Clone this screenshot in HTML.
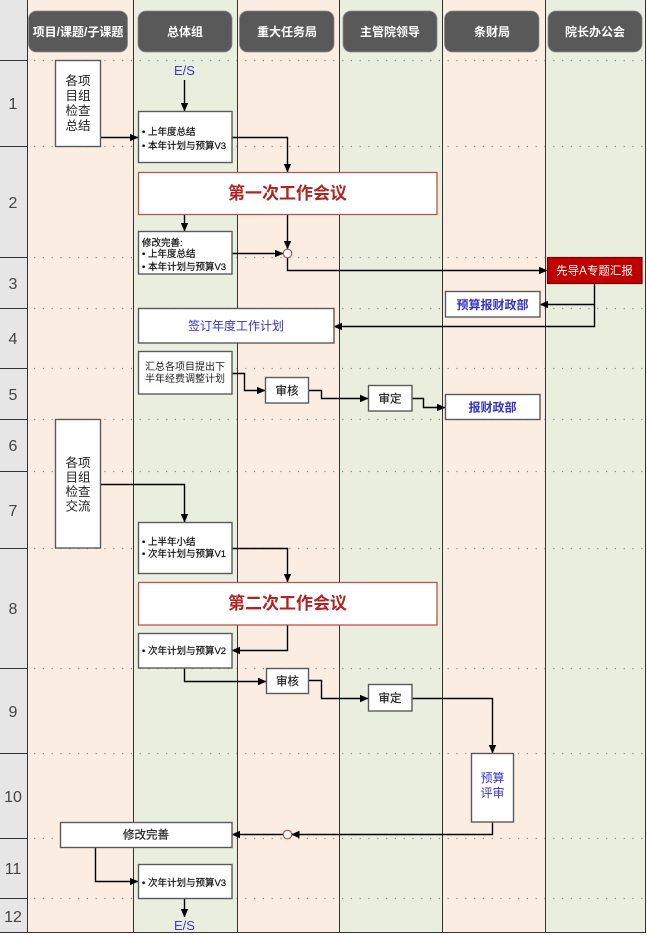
<!DOCTYPE html>
<html><head><meta charset="utf-8">
<style>
html,body{margin:0;padding:0;background:#fff;}
svg{display:block;}
text{font-family:"Liberation Sans","Noto Sans CJK SC",sans-serif;}
</style></head>
<body>
<svg width="647" height="935" viewBox="0 0 647 935" xmlns="http://www.w3.org/2000/svg">
<defs>
<marker id="a" markerWidth="9" markerHeight="9" refX="8" refY="4.5" orient="auto" markerUnits="userSpaceOnUse">
<path d="M0,0.8 L8.5,4.5 L0,8.2 z" fill="#000"/>
</marker>
</defs>
<!-- lanes -->
<rect x="0" y="0" width="27" height="933" fill="#e6e6e6"/>
<rect x="27" y="0" width="106" height="933" fill="#fcede3"/>
<rect x="133" y="0" width="104" height="933" fill="#e9eede"/>
<rect x="237" y="0" width="102" height="933" fill="#fcede3"/>
<rect x="339" y="0" width="103" height="933" fill="#e9eede"/>
<rect x="442" y="0" width="103" height="933" fill="#fcede3"/>
<rect x="545" y="0" width="100" height="933" fill="#e9eede"/>

<!-- dotted row lines -->
<g stroke="#8a8a8a" stroke-width="1.2" stroke-dasharray="1.2,7.6">
<line x1="34" y1="60.5" x2="645" y2="60.5"/>
<line x1="34" y1="146.5" x2="645" y2="146.5"/>
<line x1="34" y1="257.5" x2="645" y2="257.5"/>
<line x1="34" y1="308.5" x2="645" y2="308.5"/>
<line x1="34" y1="368.5" x2="645" y2="368.5"/>
<line x1="34" y1="419.5" x2="645" y2="419.5"/>
<line x1="34" y1="471.5" x2="645" y2="471.5"/>
<line x1="34" y1="548.5" x2="645" y2="548.5"/>
<line x1="34" y1="668.5" x2="645" y2="668.5"/>
<line x1="34" y1="753.5" x2="645" y2="753.5"/>
<line x1="34" y1="838.5" x2="645" y2="838.5"/>
<line x1="34" y1="898.5" x2="645" y2="898.5"/>
</g>

<!-- left column row lines -->
<g stroke="#333" stroke-width="1">
<line x1="0" y1="60.5" x2="27" y2="60.5"/>
<line x1="0" y1="146.5" x2="27" y2="146.5"/>
<line x1="0" y1="257.5" x2="27" y2="257.5"/>
<line x1="0" y1="308.5" x2="27" y2="308.5"/>
<line x1="0" y1="368.5" x2="27" y2="368.5"/>
<line x1="0" y1="419.5" x2="27" y2="419.5"/>
<line x1="0" y1="471.5" x2="27" y2="471.5"/>
<line x1="0" y1="548.5" x2="27" y2="548.5"/>
<line x1="0" y1="668.5" x2="27" y2="668.5"/>
<line x1="0" y1="753.5" x2="27" y2="753.5"/>
<line x1="0" y1="838.5" x2="27" y2="838.5"/>
<line x1="0" y1="898.5" x2="27" y2="898.5"/>
<line x1="0" y1="932.5" x2="645" y2="932.5"/>
<line x1="27.5" y1="0" x2="27.5" y2="933"/>
<line x1="133.5" y1="0" x2="133.5" y2="933"/>
<line x1="237.5" y1="0" x2="237.5" y2="933"/>
<line x1="339.5" y1="0" x2="339.5" y2="933"/>
<line x1="442.5" y1="0" x2="442.5" y2="933"/>
<line x1="545.5" y1="0" x2="545.5" y2="933"/>
<line x1="645.5" y1="0" x2="645.5" y2="933"/>
</g>

<!-- row numbers -->
<g font-size="16" fill="#444" text-anchor="middle">
<text x="13" y="109">1</text>
<text x="13" y="208">2</text>
<text x="13" y="289">3</text>
<text x="13" y="344">4</text>
<text x="13" y="400">5</text>
<text x="13" y="451">6</text>
<text x="13" y="516">7</text>
<text x="13" y="614">8</text>
<text x="13" y="717">9</text>
<text x="13" y="802">10</text>
<text x="13" y="874">11</text>
<text x="13" y="922">12</text>
</g>

<!-- headers -->
<g fill="#595959" stroke="#8a8a8a" stroke-width="0.8">
<rect x="28.5" y="11" width="99" height="41" rx="8"/>
<rect x="138" y="11" width="94" height="41" rx="8"/>
<rect x="239.5" y="11" width="94.5" height="41" rx="8"/>
<rect x="343" y="11" width="94" height="41" rx="8"/>
<rect x="444.5" y="11" width="94.5" height="41" rx="8"/>
<rect x="548" y="11" width="94" height="41" rx="8"/>
</g>
<g font-size="12" font-weight="bold" fill="#fff" text-anchor="middle">
<text x="78" y="36">项目/课题/子课题</text>
<text x="185" y="36">总体组</text>
<text x="287" y="36">重大任务局</text>
<text x="390" y="36">主管院领导</text>
<text x="492" y="36">条财局</text>
<text x="595" y="36">院长办公会</text>
</g>

<!-- connectors -->
<g fill="none" stroke="#000" stroke-width="1.4">
<path d="M184.5,80 V111" marker-end="url(#a)"/>
<path d="M100,137.5 H138" marker-end="url(#a)"/>
<path d="M232,137.5 H287.5 V172" marker-end="url(#a)"/>
<path d="M184.5,214 V231" marker-end="url(#a)"/>
<path d="M232,253.5 H283" marker-end="url(#a)"/>
<path d="M287.5,214 V249" marker-end="url(#a)"/>
<path d="M287.5,257.5 V270.5 H547" marker-end="url(#a)"/>
<path d="M594.5,283 V326.5 H334" marker-end="url(#a)"/>
<path d="M594.5,304.5 H540" marker-end="url(#a)"/>
<path d="M232,373.5 H244.5 V390.5 H265" marker-end="url(#a)"/>
<path d="M309,390.5 H321.5 V398.5 H368" marker-end="url(#a)"/>
<path d="M412,398.5 H423.5 V407.5 H445" marker-end="url(#a)"/>
<path d="M100,484.5 H184.5 V522" marker-end="url(#a)"/>
<path d="M232,548.5 H287.5 V582" marker-end="url(#a)"/>
<path d="M287.5,625 V650.5 H232" marker-end="url(#a)"/>
<path d="M184.5,668 V681.5 H266" marker-end="url(#a)"/>
<path d="M308,680.5 H321.5 V698.5 H368" marker-end="url(#a)"/>
<path d="M412,698.5 H492.5 V753" marker-end="url(#a)"/>
<path d="M492.5,822 V834.5 H291.5" marker-end="url(#a)"/>
<path d="M283,834.5 H232" marker-end="url(#a)"/>
<path d="M95.5,847 V881.5 H138" marker-end="url(#a)"/>
<path d="M184.5,898 V917" marker-end="url(#a)"/>
</g>

<!-- circles -->
<circle cx="287.5" cy="253.5" r="4.3" fill="#fff" stroke="#b85450" stroke-width="1.2"/>
<circle cx="287.5" cy="834.5" r="4.3" fill="#fff" stroke="#b85450" stroke-width="1.2"/>

<!-- boxes -->
<g fill="#fff" stroke="#5a5a5a" stroke-width="1.4">
<rect x="55.5" y="60.5" width="45" height="86"/>
<rect x="138.5" y="111.5" width="93.5" height="51"/>
<rect x="138.5" y="231.5" width="93.5" height="42.5"/>
<rect x="445.5" y="291.5" width="94.5" height="25.5"/>
<rect x="138.5" y="308.5" width="195.5" height="34.5"/>
<rect x="138.5" y="351.5" width="93.5" height="42.5"/>
<rect x="265.5" y="377.5" width="43" height="25.5"/>
<rect x="368.5" y="385.5" width="43.5" height="25.5"/>
<rect x="445.5" y="394.5" width="94.5" height="25"/>
<rect x="55.5" y="419.5" width="45" height="128.5"/>
<rect x="138.5" y="522.5" width="93.5" height="51"/>
<rect x="138.5" y="633.5" width="93.5" height="34.5"/>
<rect x="266.5" y="668.5" width="42" height="25"/>
<rect x="368.5" y="684.5" width="43.5" height="26.5"/>
<rect x="471.5" y="753.5" width="42" height="68.5"/>
<rect x="60.5" y="822.5" width="171.5" height="25"/>
<rect x="138.5" y="864.5" width="93.5" height="34"/>
</g>
<g fill="#fff" stroke="#b85450" stroke-width="1.3">
<rect x="138.5" y="172.5" width="298.5" height="42"/>
<rect x="138.5" y="582.5" width="298.5" height="42.5"/>
</g>
<rect x="547.5" y="257.5" width="94.5" height="26" fill="#c00000" stroke="#7a0000" stroke-width="1.2"/>

<!-- texts -->
<g font-size="12.5" fill="#222" text-anchor="middle">
<text x="78" y="85">各项</text>
<text x="78" y="100">目组</text>
<text x="78" y="115">检查</text>
<text x="78" y="130">总结</text>
<text x="78" y="467">各项</text>
<text x="78" y="481.5">目组</text>
<text x="78" y="496">检查</text>
<text x="78" y="510.5">交流</text>
</g>
<g font-size="13" fill="#3a3ac8" text-anchor="middle">
<text x="184.5" y="75">E/S</text>
<text x="184.5" y="930">E/S</text>
</g>
<g font-size="9.5" fill="#111" stroke="#111" stroke-width="0.2">
<text x="142" y="135">• 上年度总结</text>
<text x="142" y="149">• 本年计划与预算V3</text>
<text x="142" y="246">修改完善:</text>
<text x="142" y="257">• 上年度总结</text>
<text x="142" y="270">• 本年计划与预算V3</text>
<text x="142" y="545">• 上半年小结</text>
<text x="142" y="557">• 次年计划与预算V1</text>
<text x="142" y="654">• 次年计划与预算V2</text>
<text x="142" y="886">• 次年计划与预算V3</text>
</g>
<g font-size="10" fill="#222" text-anchor="middle">
<text x="185" y="370">汇总各项目提出下</text>
<text x="185" y="382">半年经费调整计划</text>
</g>
<g font-size="17" fill="#b22222" font-weight="bold" text-anchor="middle">
<text x="287.5" y="199">第一次工作会议</text>
<text x="287.5" y="609">第二次工作会议</text>
</g>
<g font-size="12" fill="#3333cc" text-anchor="middle">
<text x="236" y="330">签订年度工作计划</text>
<text x="492.5" y="309" font-weight="bold">预算报财政部</text>
<text x="492.5" y="411.5" font-weight="bold">报财政部</text>
<text x="492.5" y="782">预算</text>
<text x="492.5" y="797">评审</text>
</g>
<text x="594.5" y="274.5" font-size="11.5" fill="#fff" text-anchor="middle">先导A专题汇报</text>
<g font-size="11.5" fill="#222" stroke="#222" stroke-width="0.2" text-anchor="middle">
<text x="287" y="394.5">审核</text>
<text x="390" y="402.5">审定</text>
<text x="287.5" y="685">审核</text>
<text x="390" y="702">审定</text>
<text x="146" y="838.5">修改完善</text>
</g>
</svg>
</body></html>
